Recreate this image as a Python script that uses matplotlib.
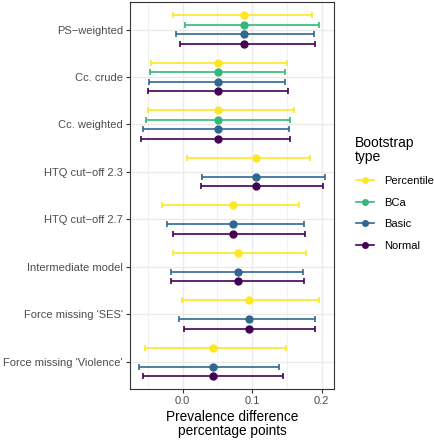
import numpy as np
import matplotlib
matplotlib.use("Agg")
from matplotlib import pyplot as plt
from matplotlib.lines import Line2D

plt.rcParams['font.family'] = ['Liberation Sans', 'DejaVu Sans']

models = ["PS\u2212weighted", "Cc. crude", "Cc. weighted", "HTQ cut\u2212off 2.3",
          "HTQ cut\u2212off 2.7", "Intermediate model", "Force missing 'SES'",
          "Force missing 'Violence'"]
methods = ["Percentile", "BCa", "Basic", "Normal"]
colors = ["#FDE725", "#35B779", "#31688E", "#440154"]

estimate = [0.088, 0.051, 0.051, 0.106, 0.073, 0.080, 0.095, 0.043]

# lower / upper bounds per method (nan = not computed)
lower = {
    "Percentile": [-0.0135, -0.0457, -0.0496, 0.0067, -0.0299, -0.0135, -0.0005, -0.0540],
    "BCa":        [0.0033, -0.0476, -0.0534, np.nan, np.nan, np.nan, np.nan, np.nan],
    "Basic":      [-0.0100, -0.0486, -0.0573, 0.0283, -0.0220, -0.0174, -0.0058, -0.0635],
    "Normal":     [-0.0044, -0.0505, -0.0602, 0.0264, -0.0140, -0.0164, 0.0014, -0.0573],
}
upper = {
    "Percentile": [0.186, 0.1505, 0.161, 0.184, 0.167, 0.1775, 0.196, 0.1486],
    "BCa":        [0.197, 0.148, 0.155, np.nan, np.nan, np.nan, np.nan, np.nan],
    "Basic":      [0.189, 0.148, 0.153, 0.205, 0.175, 0.1736, 0.1905, 0.1394],
    "Normal":     [0.190, 0.1515, 0.154, 0.2025, 0.1755, 0.175, 0.1905, 0.145],
}

fig = plt.figure(figsize=(4.35, 4.4), dpi=100)
ax = fig.add_axes([0.2989, 0.1159, 0.4689, 0.8796])

offsets = [-0.3, -0.1, 0.1, 0.3]
y = np.arange(len(models))
for m, col, off in zip(methods, colors, offsets):
    lo = np.array(lower[m])
    hi = np.array(upper[m])
    ok = ~np.isnan(lo)
    est = np.array(estimate)
    ax.errorbar(est[ok], y[ok] + off,
                xerr=[est[ok] - lo[ok], hi[ok] - est[ok]],
                fmt='o', color=col, markersize=5, elinewidth=1.2,
                capsize=2.5, capthick=1.2, zorder=3)

ax.set_xlim(-0.076, 0.218)
ax.set_ylim(len(models) - 1 + 0.57, -0.58)
ax.set_yticks(y)
ax.set_yticklabels(models)
ax.set_xticks([0.0, 0.1, 0.2])
ax.set_xticklabels(["0.0", "0.1", "0.2"])
ax.set_xticks([-0.05, 0.05, 0.15], minor=True)

ax.grid(True, which='major', color='#EBEBEB', linewidth=1.0, zorder=0)
ax.grid(True, which='minor', axis='x', color='#EBEBEB', linewidth=0.5, zorder=0)
ax.set_axisbelow(True)
for s in ax.spines.values():
    s.set_color('#333333')
    s.set_linewidth(0.8)
ax.tick_params(axis='both', which='major', length=3, width=0.8, color='#333333',
               labelsize=8, labelcolor='#4D4D4D', pad=2)
ax.tick_params(axis='x', which='minor', length=0)

ax.set_xlabel("Prevalence difference\npercentage points", fontsize=9.8, color='black',
              labelpad=3, linespacing=1.0)

# legend: title drawn separately so it sits left of the keys, as in ggplot
fig.text(355 / 435, 1 - 150 / 440, "Bootstrap\ntype", fontsize=10, va='center', ha='left',
         linespacing=1.05)
handles = [Line2D([], [], color=c, marker='o', markersize=4, linewidth=1.2) for c in colors]
fig.legend(handles, methods, loc='upper left', bbox_to_anchor=(356 / 435, 1 - 176 / 440),
           frameon=False, fontsize=8, handlelength=1.6, labelspacing=1.05,
           handletextpad=0.9, borderaxespad=0, borderpad=0)

fig.savefig("out.png", dpi=100)
